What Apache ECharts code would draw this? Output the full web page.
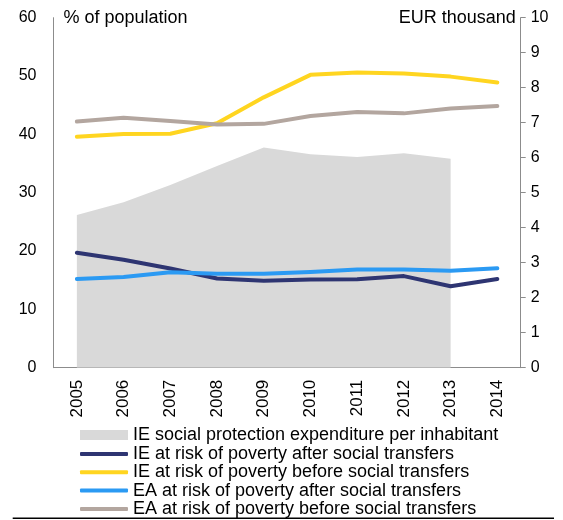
<!DOCTYPE html>
<html>
<head>
<meta charset="utf-8">
<script src="https://cdn.jsdelivr.net/npm/echarts@6/dist/echarts.min.js"></script>
<style>
  html, body { margin: 0; padding: 0; background: #fff; }
  #chart { width: 563px; height: 520px; }
</style>
</head>
<body>
<div id="chart"></div>
<script>
var years = ['2005', '2006', '2007', '2008', '2009', '2010', '2011', '2012', '2013', '2014'];

// EUR thousand (right axis), no 2014 value
var ieSpending = [4.36, 4.73, 5.22, 5.76, 6.29, 6.10, 6.02, 6.13, 5.97, '-'];
// % of population (left axis)
var ieAfter = [19.7, 18.5, 17.0, 15.3, 14.9, 15.1, 15.15, 15.7, 13.95, 15.2];
var ieBefore = [39.6, 40.05, 40.1, 41.9, 46.35, 50.2, 50.6, 50.45, 49.9, 48.9];
var eaAfter = [15.2, 15.55, 16.35, 16.1, 16.1, 16.4, 16.85, 16.85, 16.6, 17.05];
var eaBefore = [42.2, 42.85, 42.3, 41.7, 41.8, 43.15, 43.85, 43.6, 44.45, 44.85];

var leftTicks = [0, 60, 10];
var rightTicks = [0, 10, 1];

var names = [
    'IE social protection expenditure per inhabitant',
    'IE at risk of poverty after social transfers',
    'IE at risk of poverty before social transfers',
    'EA at risk of poverty after social transfers',
    'EA at risk of poverty before social transfers'
];
var colors = ['#d9d9d9', '#2e3572', '#ffd520', '#2b9af3', '#b3a69f'];

var font = "'Liberation Sans', Arial, sans-serif";
var axisGrey = '#8c8c8c';

function lineSeries(i, data) {
    return {
        name: names[i],
        type: 'line',
        yAxisIndex: 0,
        data: data,
        symbol: 'none',
        smooth: false,
        lineStyle: { color: colors[i], width: 4, cap: 'round', join: 'round' },
        itemStyle: { color: colors[i] },
        emphasis: { disabled: true }
    };
}

var chart = echarts.init(document.getElementById('chart'));
chart.setOption({
    animation: false,
    textStyle: { fontFamily: font },
    grid: { left: 53.5, right: 42.3, top: 17.7, bottom: 152.3 },
    xAxis: {
        type: 'category',
        data: years,
        boundaryGap: true,
        axisLine: { lineStyle: { color: axisGrey, width: 1 } },
        axisTick: { show: false },
        axisLabel: { rotate: 90, margin: 12, color: '#000', fontSize: 17, fontFamily: font }
    },
    yAxis: [{
        type: 'value',
        min: leftTicks[0], max: leftTicks[1], interval: leftTicks[2],
        name: '% of population',
        nameLocation: 'end',
        nameGap: 0,
        nameTextStyle: { color: '#000', fontSize: 18, fontFamily: font, align: 'left', verticalAlign: 'middle', padding: [0, 0, 0, 10] },
        axisLine: { show: true, lineStyle: { color: axisGrey, width: 1 } },
        axisTick: { show: false },
        splitLine: { show: false },
        axisLabel: { margin: 17, color: '#000', fontSize: 16, fontFamily: font }
    }, {
        type: 'value',
        position: 'right',
        min: rightTicks[0], max: rightTicks[1], interval: rightTicks[2],
        name: 'EUR thousand',
        nameLocation: 'end',
        nameGap: 0,
        nameTextStyle: { color: '#000', fontSize: 18, fontFamily: font, align: 'right', verticalAlign: 'middle', padding: [0, 5, 0, 0] },
        axisLine: { show: true, lineStyle: { color: axisGrey, width: 1 } },
        axisTick: { show: true, inside: false, length: 5, lineStyle: { color: axisGrey } },
        splitLine: { show: false },
        axisLabel: { margin: 10, color: '#000', fontSize: 16, fontFamily: font }
    }],
    legend: [{
        orient: 'vertical',
        left: 80,
        top: 426,
        height: 40,
        padding: 0,
        data: [names[0]],
        icon: 'rect',
        itemWidth: 48,
        itemHeight: 10,
        itemGap: 0,
        selectedMode: false,
        textStyle: { color: '#000', fontSize: 18, fontFamily: font, lineHeight: 18 }
    }, {
        orient: 'vertical',
        left: 80,
        top: 445,
        height: 120,
        padding: 0,
        data: names.slice(1),
        icon: 'roundRect',
        itemWidth: 48,
        itemHeight: 4,
        itemGap: 0.3,
        selectedMode: false,
        textStyle: { color: '#000', fontSize: 18, fontFamily: font, lineHeight: 18 }
    }],
    graphic: [{
        type: 'line',
        shape: { x1: 12.7, y1: 518.3, x2: 554, y2: 518.3 },
        style: { stroke: '#000', lineWidth: 1.5 },
        silent: true
    }],
    series: [{
        name: names[0],
        type: 'line',
        yAxisIndex: 1,
        data: ieSpending,
        symbol: 'none',
        lineStyle: { width: 0, color: colors[0] },
        itemStyle: { color: colors[0] },
        areaStyle: { color: colors[0], opacity: 1 },
        emphasis: { disabled: true },
        z: 1
    },
    lineSeries(1, ieAfter),
    lineSeries(2, ieBefore),
    lineSeries(3, eaAfter),
    lineSeries(4, eaBefore)]
});
</script>
</body>
</html>
